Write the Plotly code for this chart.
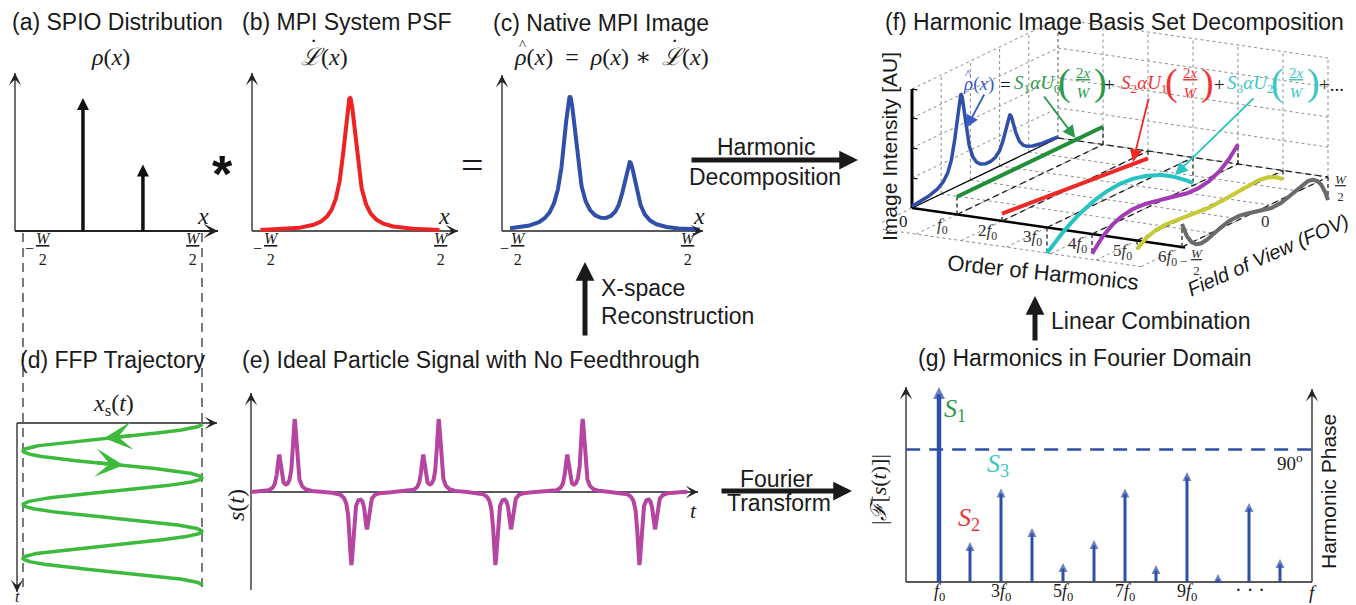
import numpy as np
import plotly.graph_objects as go

FIG_W, FIG_H = 1356, 605
SANS = "Liberation Sans, Arial, Helvetica, sans-serif"
SERIF = "Liberation Serif, DejaVu Serif, serif"
INK = "#1a1a1a"
AXC = "#222222"

# ---------------- values ----------------
# (a) SPIO distribution: particle positions (fraction of FOV W) and relative amounts
spio_pos = [-0.165, 0.17]
spio_amp = [1.0, 0.5]
# (b) system PSF half width at half maximum (fraction of W)
psf_hwhm = 0.045
psf_extent = [-0.5, 0.5]
# (c) plotted extent of native image (fraction of W)
image_extent = [-0.5, 0.56]
# (d) FFP trajectory: amplitude (fraction of W), periods shown, arrow times
ffp_amp = 0.5
ffp_periods = 3.0
ffp_arrow_times = [0.265, 0.77]
fov_edges = [-0.5, 0.5]
# (e) plotted time span (drive periods)
signal_span = [0.0, 3.03]
# (g) harmonic spectrum (relative magnitudes) and 90 degree phase level
harm_orders = list(range(1, 13))
harm_mags = [1.0, 0.205, 0.48, 0.277, 0.097, 0.215, 0.48, 0.087, 0.564, 0.041, 0.405, 0.118]
phase_90 = 0.68
g_tick_orders = [1, 3, 5, 7, 9]
g_tick_text = ["<i>f</i><sub>0</sub>", "3<i>f</i><sub>0</sub>", "5<i>f</i><sub>0</sub>",
               "7<i>f</i><sub>0</sub>", "9<i>f</i><sub>0</sub>"]
# (f) harmonic image basis set: sign of S_n, scale alpha
basis_orders = [1, 2, 3, 4, 5, 6]
basis_signs = [1, -1, -1, 1, -1, -1]
basis_alpha = 0.2
basis_colors = ["#1f8f3a", "#f02828", "#27c3c3", "#a23bb5", "#c6ca34", "#6a6a6a"]
f_tick_text = ["<i>f</i><sub>0</sub>", "2<i>f</i><sub>0</sub>", "3<i>f</i><sub>0</sub>",
               "4<i>f</i><sub>0</sub>", "5<i>f</i><sub>0</sub>", "6<i>f</i><sub>0</sub>"]
intensity_ticks = [0.0, 0.337, 0.674, 1.011, 1.337]
fov_grid = [-0.28, 0.0, 0.2, 0.4, 0.6, 0.8, 1.0]

BLUE = "#2f4fa8"
RED = "#ee2222"
GREEN_D = "#3dba3d"
MAGENTA = "#b5459f"


def psf(x):
    return 1.0 / (1.0 + (np.asarray(x) / psf_hwhm) ** 2)


def native_image(x):
    x = np.asarray(x, dtype=float)
    return sum(a * psf(x - p) for p, a in zip(spio_pos, spio_amp))


def cheb_u(n, xi):
    xi = np.asarray(xi, dtype=float)
    u_prev, u = np.ones_like(xi), 2 * xi
    if n == 0:
        return u_prev
    for _ in range(n - 1):
        u_prev, u = u, 2 * xi * u - u_prev
    return u


fig = go.Figure()
AX = {}


def make_panel(key, box, x0, sx, y0, sy):
    l, t, r, b = box
    i = len(AX) + 1
    xa = "xaxis" if i == 1 else f"xaxis{i}"
    ya = "yaxis" if i == 1 else f"yaxis{i}"
    xr = "x" if i == 1 else f"x{i}"
    yr = "y" if i == 1 else f"y{i}"
    fig.update_layout({
        xa: dict(domain=[l / FIG_W, r / FIG_W], range=[(l - x0) / sx, (r - x0) / sx],
                 visible=False, fixedrange=True, anchor=yr),
        ya: dict(domain=[1 - b / FIG_H, 1 - t / FIG_H], range=[(y0 - b) / sy, (y0 - t) / sy],
                 visible=False, fixedrange=True, anchor=xr),
    })
    AX[key] = (xr, yr)


make_panel("a", (0, 40, 240, 300), 112.5, 179, 231, 133)
make_panel("b", (240, 40, 475, 300), 350, 179, 231, 133)
make_panel("c", (480, 40, 720, 300), 599.5, 179, 231, 133)
make_panel("d", (0, 225, 240, 605), 112.5, 179, 424, -53.7)
make_panel("e", (230, 380, 720, 605), 251, 144, 492, 73)
make_panel("f", (880, 0, 1356, 300), 912, 1, 208, 1)
make_panel("g", (850, 370, 1356, 605), 908, 31, 582, 195)


def line(key, x, y, color, width, dash=None):
    xr, yr = AX[key]
    fig.add_trace(go.Scatter(x=np.asarray(x, dtype=float), y=np.asarray(y, dtype=float),
                             xaxis=xr, yaxis=yr, mode="lines",
                             line=dict(color=color, width=width, dash=dash),
                             hoverinfo="skip", showlegend=False))


def heads(key, x, y, color, size, symbol="arrow-up"):
    xr, yr = AX[key]
    fig.add_trace(go.Scatter(x=x, y=y, xaxis=xr, yaxis=yr, mode="markers",
                             marker=dict(symbol=symbol, size=size, color=color, line=dict(width=0)),
                             hoverinfo="skip", showlegend=False, cliponaxis=False))


def T(x, y, s, size=23, color=INK, family=SANS, xanchor="center", yanchor="middle", angle=0):
    fig.add_annotation(x=x / FIG_W, y=1 - y / FIG_H, xref="paper", yref="paper", text=s,
                       showarrow=False, font=dict(size=size, color=color, family=family),
                       xanchor=xanchor, yanchor=yanchor, textangle=angle, borderpad=0)


def ARR(x1, y1, x0, y0, width, size, head=2, color=INK):
    fig.add_annotation(x=x1 / FIG_W, y=1 - y1 / FIG_H, xref="paper", yref="paper",
                       ax=x0 - x1, ay=y0 - y1, axref="pixel", ayref="pixel", text="",
                       showarrow=True, arrowhead=head, arrowsize=size, arrowwidth=width,
                       arrowcolor=color, standoff=0, startstandoff=0)


def SEG(x0, y0, x1, y1, width=1.3, color=AXC, dash=None):
    fig.add_shape(type="line", xref="paper", yref="paper", x0=x0 / FIG_W, y0=1 - y0 / FIG_H,
                  x1=x1 / FIG_W, y1=1 - y1 / FIG_H, line=dict(color=color, width=width, dash=dash),
                  layer="below")


def AXIS(x0, y0, x1, y1, width=1.3, size=1.6):
    SEG(x0, y0, x1, y1, width)
    L = np.hypot(x1 - x0, y1 - y0)
    ARR(x1, y1, x1 - (x1 - x0) / L * 9, y1 - (y1 - y0) / L * 9, width, size, head=3, color=AXC)


def FRAC(xc, yc, num, den, size=16, color=INK, minus=False):
    T(xc, yc, f"<u>{num}</u><br>{den}", size, color, SERIF)
    if minus:
        T(xc - 14, yc - 1, "\u2212", size, color, SERIF)


def HAT(x, y, size=15, color=INK):
    T(x, y, "^", size, color, SERIF)


def DOT(x, y, size=20, color=INK):
    T(x, y, "\u00b7", size, color, SERIF)


EN = "\u2002"

# ================= (a) SPIO distribution =================
AXIS(15, 231, 15, 73)
AXIS(15, 231, 218, 231, 2.0, 1.2)
for p, a in zip(spio_pos, spio_amp):
    line("a", [p, p], [0, a - 6 / 133], "#111111", 3.5)
heads("a", spio_pos, spio_amp, "#111111", 12)
T(117, 22, "(a) SPIO Distribution")
T(110, 57, "<i>\u03c1</i>(<i>x</i>)", 24, INK, SERIF)
T(203, 216, "<i>x</i>", 24, INK, SERIF)
FRAC(43, 249, "<i>W</i>", "2", minus=True)
FRAC(193, 249, "<i>W</i>", "2")
T(222, 174, "<b>*</b>", 52, "#111111", SANS)

# ================= (b) PSF =================
AXIS(252, 231, 252, 73)
AXIS(252, 231, 458, 231)
xb = np.linspace(psf_extent[0], psf_extent[1], 600)
line("b", xb, psf(xb), RED, 4)
T(347, 22, "(b) MPI System PSF")
T(300, 57, "<i>\u2112</i>(<i>x</i>)", 24, INK, SERIF, xanchor="left")
DOT(313, 41, 22)
T(444, 216, "<i>x</i>", 24, INK, SERIF)
FRAC(271, 249, "<i>W</i>", "2", minus=True)
FRAC(441, 249, "<i>W</i>", "2")
T(472, 165, "=", 40, INK, SERIF)

# ================= (c) native image =================
AXIS(502, 231, 502, 75)
AXIS(502, 231, 703, 231)
xc = np.linspace(image_extent[0], image_extent[1], 800)
line("c", xc, native_image(xc), BLUE, 4)
T(601, 23, "(c) Native MPI Image")
T(513, 57, f"<i>\u03c1</i>(<i>x</i>){EN}={EN}<i>\u03c1</i>(<i>x</i>) \u2217", 24, INK, SERIF, xanchor="left")
HAT(522, 45, 15)
T(661, 57, "<i>\u2112</i>(<i>x</i>)", 24, INK, SERIF, xanchor="left")
DOT(674, 41, 22)
T(699, 216, "<i>x</i>", 24, INK, SERIF)
FRAC(518, 249, "<i>W</i>", "2", minus=True)
FRAC(688, 249, "<i>W</i>", "2")

# flow arrows + texts
ARR(858, 160, 690, 160, 5, 0.75)
T(766, 147, "Harmonic")
T(765, 177, "Decomposition")
ARR(585, 262, 585, 337, 5, 0.75)
T(600, 288, "X-space", xanchor="left")
T(600, 316, "Reconstruction", xanchor="left")
ARR(852, 491, 720, 491, 5, 0.75)
T(776, 479, "Fourier")
T(779, 503, "Transform")
ARR(1035, 296, 1035, 342, 5, 0.75)
T(1050, 321, "Linear Combination", xanchor="left")

# ================= (d) FFP trajectory =================
td = np.linspace(0, ffp_periods, 1200)
for e in fov_edges:
    line("d", [e, e], [(233 - 424) / 53.7, (590 - 424) / 53.7], "#333333", 1.3, "9px,6px")
AXIS(17, 423, 217, 423)
AXIS(17, 423, 17, 592)
line("d", ffp_amp * np.cos(2 * np.pi * td), td, GREEN_D, 3.5)
xr_d, yr_d = AX["d"]
for ta in ffp_arrow_times:
    xh = ffp_amp * np.cos(2 * np.pi * ta)
    xt = ffp_amp * np.cos(2 * np.pi * (ta - 0.05))
    fig.add_annotation(x=xh, y=ta, xref=xr_d, yref=yr_d, ax=xt, ay=ta - 0.05, axref=xr_d, ayref=yr_d,
                       text="", showarrow=True, arrowhead=3, arrowsize=1.35, arrowwidth=3.5,
                       arrowcolor=GREEN_D, standoff=0)
T(112, 360, "(d) FFP Trajectory")
T(113, 405, "<i>x</i><sub>s</sub>(<i>t</i>)", 24, INK, SERIF)
T(17, 596, "<i>t</i>", 16, INK, SERIF)

# ================= (e) particle signal =================
te = np.linspace(signal_span[0], signal_span[1], 6000)
xs = ffp_amp * np.cos(2 * np.pi * te)
vel = -ffp_amp * 2 * np.pi * np.sin(2 * np.pi * te)
sig = -vel * native_image(xs)
sig = sig / np.abs(sig).max()
AXIS(251, 590, 251, 393)
AXIS(251, 492, 698, 492)
line("e", te, sig, MAGENTA, 4)
T(471, 360, "(e) Ideal Particle Signal with No Feedthrough")
T(236, 505, "<i>s</i>(<i>t</i>)", 24, INK, SERIF, angle=-90)
T(693, 510, "<i>t</i>", 22, INK, SERIF)

# ================= (f) harmonic image basis (oblique projection) =================
HX, HY = 45.0, -6.5
UX, UY = 146.0, 70.0
ZY = 89.0


def proj(h, u, z):
    h, u, z = (np.asarray(v, dtype=float) for v in (h, u, z))
    return HX * h + UX * u, HY * h + UY * u + ZY * z


def pline(h, u, z, color, width, dash=None):
    h, u, z = np.broadcast_arrays(np.asarray(h, float), np.asarray(u, float), np.asarray(z, float))
    X, Y = proj(h, u, z)
    line("f", X, Y, color, width, dash)


GRID = "#8c8c8c"
hmax = basis_orders[-1]
zmax = intensity_ticks[-1]
uu = np.array([fov_grid[0], 1.0])
for h in range(0, hmax + 1):
    pline(h, uu, 0, GRID, 1, "dot")
    pline(h, 1, [0, zmax], GRID, 1, "dot")
for u in fov_grid:
    pline([0, hmax], u, 0, GRID, 1, "dot")
for u in fov_grid[1:]:
    pline(0, u, [0, zmax], GRID, 1, "dot")
for z in intensity_ticks[1:]:
    pline([0, hmax], 1, z, GRID, 1, "dot")
    pline(0, [0, 1], z, GRID, 1, "dot")

# black axes
pline(0, 0, [0, zmax], "#000000", 3)
pline([0, 6.07], 0, 0, "#000000", 2.5)
for z in intensity_ticks:
    pline([0, 0.12], 0, z, "#000000", 1.2)
pline(0, [0, 1], 0, "#000000", 1.3)
pline([0, hmax], 1, 0, "#222222", 1.3, "6px,4px")

uf = np.linspace(0, 1, 400)
xi = 2 * uf - 1
pline(0, uf, native_image(uf - 0.5), BLUE, 3.5)
basis_curves = []
for n, sgn, col in zip(basis_orders, basis_signs, basis_colors):
    zc = sgn * harm_mags[n - 1] * basis_alpha * cheb_u(n - 1, xi)
    basis_curves.append(zc)
    pline(n, uf, 0, "#222222", 1.3, "6px,4px")
    pline(n, 0, [0, zc[0]], "#222222", 1.3, "4px,3px")
    pline(n, 1, [0, zc[-1]], "#222222", 1.3, "4px,3px")
for n, zc, col in zip(basis_orders, basis_curves, basis_colors):
    pline(n, uf, zc, col, 4)


def fpx(h, u, z):
    X, Y = proj(h, u, z)
    return 912 + float(X), 208 - float(Y)


# labels
T(1114, 22, "(f) Harmonic Image Basis Set Decomposition")
T(889, 147, "Image Intensity [AU]", 21, INK, SANS, angle=-90)
T(903, 221, "0", 17, INK, SERIF)
for n, lab in zip(basis_orders, f_tick_text):
    X0, Y0 = fpx(n, 0, 0)
    T(X0 - 15, Y0 + 11, lab, 17, "#333333", SERIF)
T(1043, 272, "Order of Harmonics", 22, INK, SANS, angle=6)
T(1268, 255, "<i>Field of View (FOV)</i>", 20, INK, SANS, angle=-24)
FRAC(1197, 262, "<i>W</i>", "2", 13, "#333333", minus=True)
T(1265, 221, "0", 17, "#333333", SERIF)
FRAC(1341, 188, "<i>W</i>", "2", 13, "#333333")

FB, FG, FR, FC = "#3a5cc4", "#2a9a4a", "#f03434", "#3ec6c6"
yf = 84
T(962, yf, "<i>\u03c1</i>(<i>x</i>)", 19, FB, SERIF, xanchor="left")
HAT(968, yf - 11, 13, FB)
T(1005, yf, "=", 19, INK, SERIF)
for xc_, col, s_, u_ in [(1037, FG, "1", "0"), (1144, FR, "2", "1"), (1250, FC, "3", "2")]:
    T(xc_, yf, f"<i>S</i><sub>{s_}</sub><i>\u03b1U</i><sub>{u_}</sub>", 19, col, SERIF)
    T(xc_ + 27, yf - 2, "(", 38, col, SERIF)
    FRAC(xc_ + 46, yf - 1, "2<i>x</i>", "<i>W</i>", 15, col)
    T(xc_ + 63, yf - 2, ")", 38, col, SERIF)
T(1109, yf, "+", 19, INK, SERIF)
T(1219, yf, "+", 19, INK, SERIF)
T(1331, yf, "+...", 19, INK, SERIF)

# pointer arrows from the formula to the curves
hx, hy = fpx(0, 0.372, native_image(0.372 - 0.5))
ARR(hx, hy, 985, 93, 1.8, 1.4, 2, FB)
for n, u_, tail in [(1, 0.81, (1043, 95)), (2, 0.897, (1149, 97)), (3, 0.877, (1255, 97))]:
    zc = basis_signs[n - 1] * harm_mags[n - 1] * basis_alpha * cheb_u(n - 1, np.array([2 * u_ - 1]))[0]
    hx, hy = fpx(n, u_, zc)
    ARR(hx, hy - 2, tail[0], tail[1], 1.8, 1.4, 2, basis_colors[n - 1] if n != 1 else FG)

# ================= (g) harmonics in Fourier domain =================
AXIS(906, 582, 906, 387)
AXIS(1312, 582, 1312, 389)
SEG(906, 582, 1312, 582, 1.5)
line("g", [-0.06, 13.03], [phase_90, phase_90], BLUE, 2.5, "14px,9px")
for n, m in zip(harm_orders, harm_mags):
    w = 4.5 if n == 1 else 3
    hs = 12 if n == 1 else 9
    line("g", [n, n], [0, max(m - hs * 0.6 / 195, 0)], BLUE, w)
heads("g", harm_orders, harm_mags, BLUE, [12] + [9] * 11)
T(1085, 358, "(g) Harmonics in Fourier Domain")
for n, lab in zip(g_tick_orders, g_tick_text):
    T(908 + 31 * n, 592, lab, 18, INK, SERIF)
T(1250, 590, "\u00b7 \u00b7 \u00b7", 20, INK, SERIF)
T(1313, 592, "<i>f</i>", 19, INK, SERIF)
T(943, 410, "<i>S</i><sub>1</sub>", 26, "#2a9a4a", SERIF, xanchor="left")
T(986, 465, "<i>S</i><sub>3</sub>", 26, "#3ec6c6", SERIF, xanchor="left")
T(957, 519, "<i>S</i><sub>2</sub>", 26, "#f03434", SERIF, xanchor="left")
T(1290, 462, "90<sup>o</sup>", 19, INK, SERIF)
T(878, 490, "|<i>\u2131</i>[<i>s</i>(<i>t</i>)]|", 22, INK, SERIF, angle=-90)
T(1328, 492, "Harmonic Phase", 21, INK, SANS, angle=-90)

fig.update_layout(width=FIG_W, height=FIG_H, margin=dict(l=0, r=0, t=0, b=0),
                  paper_bgcolor="white", plot_bgcolor="rgba(0,0,0,0)", showlegend=False)
fig.write_html("out.html", include_plotlyjs=True, config={"displayModeBar": False, "staticPlot": True},
               post_script="document.body.style.margin='0';document.body.style.overflow='hidden';")
